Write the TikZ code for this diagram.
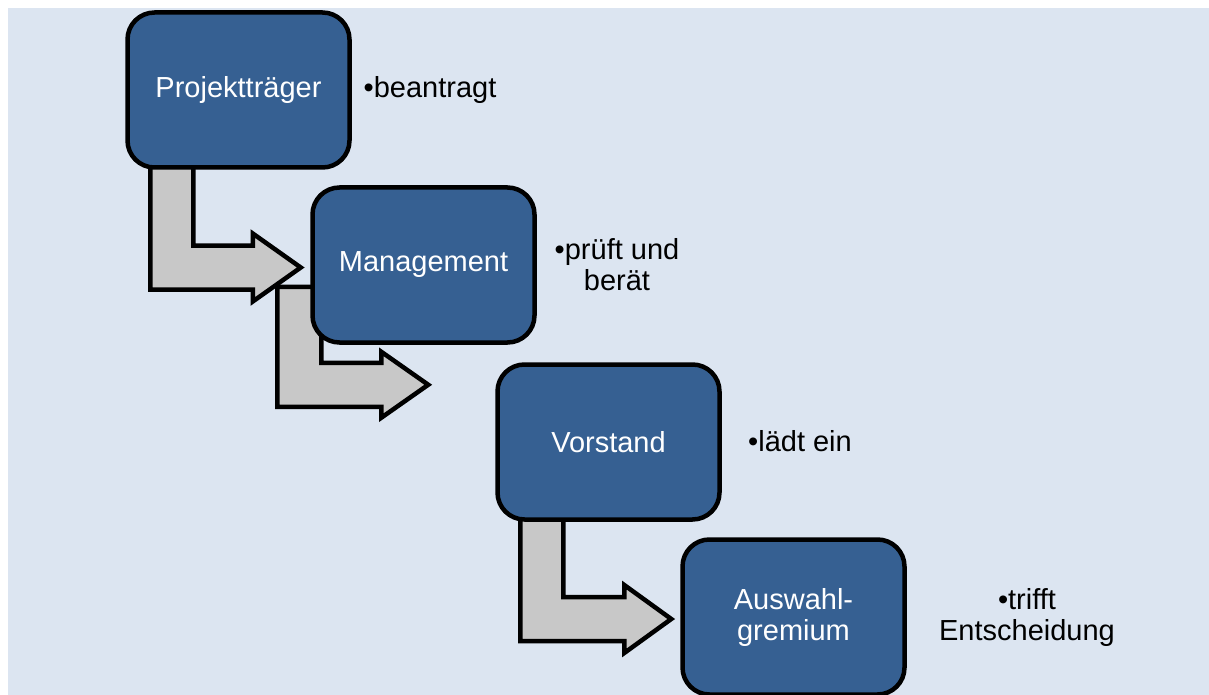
\documentclass[tikz,border=0pt]{standalone}
\usepackage{fontspec}
\setmainfont{Liberation Sans}
\usetikzlibrary{calc}
\definecolor{boxblue}{RGB}{54,96,146}
\definecolor{bgblue}{RGB}{220,229,241}
\definecolor{arrowgray}{RGB}{200,200,200}
\pgfdeclarelayer{bg}
\pgfdeclarelayer{back}
\pgfsetlayers{bg,back,main}

\begin{document}
\begin{tikzpicture}[x=1pt,y=-1pt]
					\tikzstyle{stage}=[rectangle,rounded corners=27pt,draw=black,line width=4.5pt,fill=boxblue,text=white,minimum width=222pt,minimum height=155pt,align=center,font=\fontsize{29}{31}\selectfont]
					\tikzstyle{note}=[align=center,font=\fontsize{29}{31}\selectfont]
					\tikzstyle{bent}=[draw=black,line width=4.5pt,fill=arrowgray]
					\useasboundingbox (0,0) rectangle (1209,695);
					\begin{pgfonlayer}{bg}
					\fill[bgblue] (8,8) rectangle (1209,695);
					\end{pgfonlayer}
					% Stufen
					\node[stage] (1) at (238.5,90) {Projektträger};
					\node[stage] (2) at (423.5,265) {Management};
					\node[stage] (3) at (608.5,442) {Vorstand};
					\node[stage] (4) at (793.5,617) {Auswahl-\\gremium};
					\node[note] (n1) at (430,90) {•beantragt};
					\node[note] (n2) at (617,265) {•prüft und\\berät};
					\node[note] (n3) at (800,441) {•lädt ein};
					\node[note] (n4) at (1027,617) {•trifft\\Entscheidung};
					% Pfeile
					\coordinate (s1) at ($(1.south west)+(25,-6)$);
					\coordinate (e1) at ($(2.west)+(-9.5,2.5)$);
					\coordinate (s2) at ($(2.south west)+(-33,-58)$);
					\coordinate (e2) at ($(2.south west)+(118,40)$);
					\coordinate (s3) at ($(3.south west)+(25,-6)$);
					\coordinate (e3) at ($(4.west)+(-9,2)$);
					\begin{pgfonlayer}{back}
					\draw[bent] (s1) |- ($(e1)+(-48,22)$) -- ($(e1)+(-48,34)$) -- (e1) -- ($(e1)+(-48,-34)$) -- ($(e1)+(-48,-22)$) -| ($(s1)+(43,0)$) -- cycle;
					\draw[bent] (s2) |- ($(e2)+(-47,22)$) -- ($(e2)+(-47,33)$) -- (e2) -- ($(e2)+(-47,-33)$) -- ($(e2)+(-47,-22)$) -| ($(s2)+(44,0)$) -- cycle;
					\draw[bent] (s3) |- ($(e3)+(-47,22)$) -- ($(e3)+(-47,34)$) -- (e3) -- ($(e3)+(-47,-34)$) -- ($(e3)+(-47,-22)$) -| ($(s3)+(43,0)$) -- cycle;
					\end{pgfonlayer}
\end{tikzpicture}
\end{document}
